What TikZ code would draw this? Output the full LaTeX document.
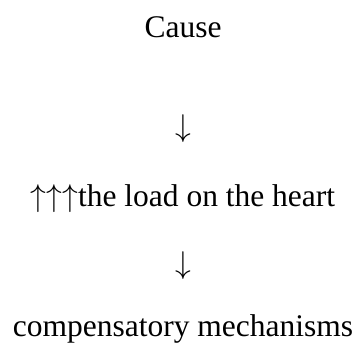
\RequirePackage{fix-cm}
\documentclass[tikz,border=0pt]{standalone}
\usepackage{fontspec}
\setmainfont{Liberation Serif}
\usetikzlibrary{positioning}

\begin{document}
\begin{tikzpicture}[x=1pt, y=1pt]

	\tikzstyle{line}=[font=\fontsize{31.5}{38}\selectfont, inner sep=0pt, anchor=base]
	\useasboundingbox (0,0) rectangle (358,347);
	\node[line] (cause) 	at (183,309) {Cause};
	\node[line] (down1) 	at (183,210) {$\downarrow$};
	\node[line] (load) 	at (183,140) {$\uparrow\uparrow\uparrow$the load on the heart};
	\node[line] (down2) 	at (183,73) {$\downarrow$};
	\node[line] (comp) 	at (183,10) {compensatory mechanisms};

\end{tikzpicture}
\end{document}
